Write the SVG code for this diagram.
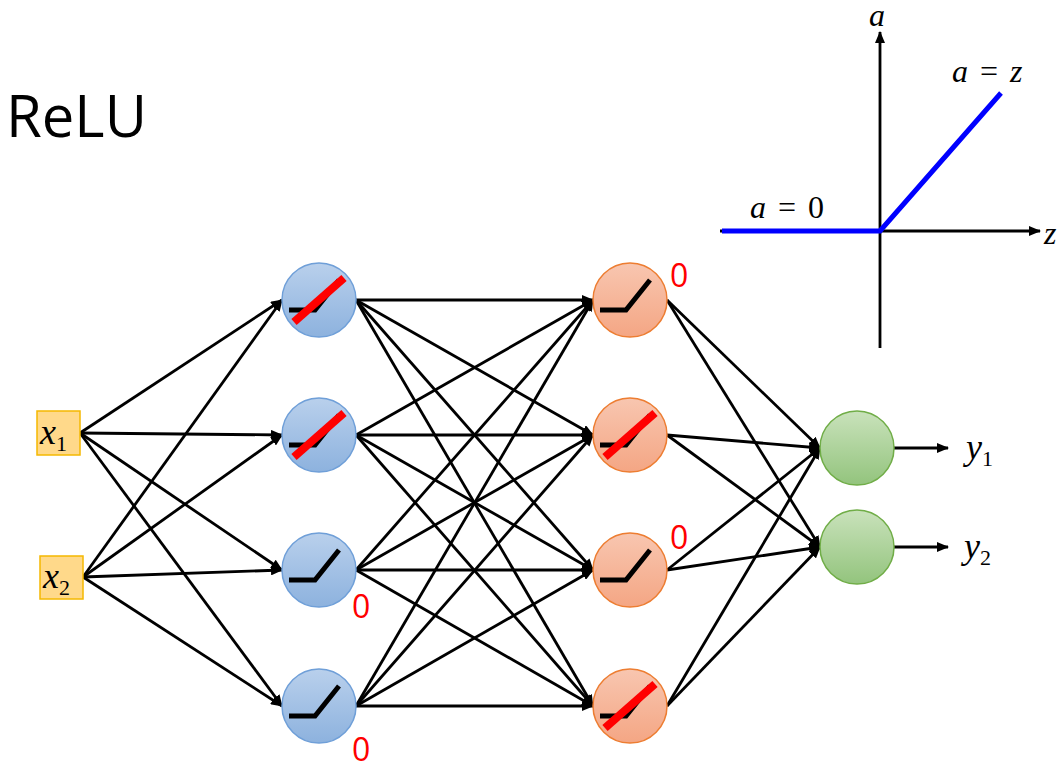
<svg xmlns="http://www.w3.org/2000/svg" width="1064" height="769" viewBox="0 0 1064 769">
<style>
.e line{stroke:#000;stroke-width:2.8;marker-end:url(#ah)}
.g{stroke:#000;stroke-width:5;fill:none}
.s{stroke:#f00;stroke-width:8}
.z{fill:#f00;font-family:"Open Sans",sans-serif;font-size:32px}
.m{font-family:"Liberation Serif",serif;font-style:italic}
.bl{fill:url(#gb);stroke:#6f9fd8;stroke-width:1.5}
.or{fill:url(#go);stroke:#ed7d31;stroke-width:1.5}
.gr{fill:url(#gg);stroke:#70ad47;stroke-width:1.5}
.in{fill:#ffd98a;stroke:#f5b800;stroke-width:1.5}
</style>
<defs>
<marker id="ah" markerWidth="12" markerHeight="10" refX="11" refY="5" orient="auto" markerUnits="userSpaceOnUse"><path d="M0,0L12,5L0,10z"/></marker>
<linearGradient id="gb" x1="0" y1="0" x2="0" y2="1"><stop offset="0" stop-color="#b9d0ec"/><stop offset="1" stop-color="#8db2de"/></linearGradient>
<linearGradient id="go" x1="0" y1="0" x2="0" y2="1"><stop offset="0" stop-color="#f8c6b0"/><stop offset="1" stop-color="#f4a684"/></linearGradient>
<linearGradient id="gg" x1="0" y1="0" x2="0" y2="1"><stop offset="0" stop-color="#c9e2bb"/><stop offset="1" stop-color="#93c47d"/></linearGradient>
<g id="relu"><path class="g" d="M-30,10H-4L20,-20"/></g>
</defs>
<rect width="1064" height="769" fill="#fff"/>
<text x="6" y="137" font-family="Open Sans,sans-serif" font-size="58">ReLU</text>
<g id="plot" class="e">
<line x1="880" y1="348" x2="880" y2="32"/>
<line x1="720" y1="231" x2="1040" y2="231"/>
<path d="M722,231H880L1001,93" stroke="#00f" stroke-width="5" fill="none"/>
<text class="m" x="869" y="26" font-size="32">a</text>
<text class="m" x="1044" y="244" font-size="32">z</text>
<text x="952" y="82" font-size="32" font-family="Liberation Serif,serif" word-spacing="4"><tspan font-style="italic">a</tspan> = <tspan font-style="italic">z</tspan></text>
<text x="750" y="218" font-size="32" font-family="Liberation Serif,serif" word-spacing="4"><tspan font-style="italic">a</tspan> = 0</text>
</g>
<g id="connectors" class="e">
<line x1="80" y1="433" x2="282" y2="300"/><line x1="80" y1="433" x2="282" y2="435"/><line x1="80" y1="433" x2="282" y2="570"/><line x1="80" y1="433" x2="282" y2="706"/>
<line x1="83" y1="577" x2="282" y2="300"/><line x1="83" y1="577" x2="282" y2="435"/><line x1="83" y1="577" x2="282" y2="570"/><line x1="83" y1="577" x2="282" y2="706"/>
<line x1="356" y1="300" x2="593" y2="300"/><line x1="356" y1="300" x2="593" y2="435"/><line x1="356" y1="300" x2="593" y2="570"/><line x1="356" y1="300" x2="593" y2="706"/>
<line x1="356" y1="435" x2="593" y2="300"/><line x1="356" y1="435" x2="593" y2="435"/><line x1="356" y1="435" x2="593" y2="570"/><line x1="356" y1="435" x2="593" y2="706"/>
<line x1="356" y1="570" x2="593" y2="300"/><line x1="356" y1="570" x2="593" y2="435"/><line x1="356" y1="570" x2="593" y2="570"/><line x1="356" y1="570" x2="593" y2="706"/>
<line x1="356" y1="706" x2="593" y2="300"/><line x1="356" y1="706" x2="593" y2="435"/><line x1="356" y1="706" x2="593" y2="570"/><line x1="356" y1="706" x2="593" y2="706"/>
<line x1="667" y1="300" x2="820" y2="448"/><line x1="667" y1="300" x2="820" y2="547"/><line x1="667" y1="435" x2="820" y2="448"/><line x1="667" y1="435" x2="820" y2="547"/>
<line x1="667" y1="570" x2="820" y2="448"/><line x1="667" y1="570" x2="820" y2="547"/><line x1="667" y1="706" x2="820" y2="448"/><line x1="667" y1="706" x2="820" y2="547"/>
<line x1="894" y1="448" x2="948" y2="448"/><line x1="894" y1="547" x2="948" y2="547"/>
</g>
<g id="x1"><rect class="in" x="37" y="411" width="43" height="44"/><text class="m" x="40" y="444" font-size="36">x<tspan font-size="22" font-style="normal" dy="7">1</tspan></text></g>
<g id="x2"><rect class="in" x="40" y="556" width="43" height="43"/><text class="m" x="43" y="588" font-size="36">x<tspan font-size="22" font-style="normal" dy="7">2</tspan></text></g>
<g id="h11"><circle class="bl" cx="319" cy="300" r="37"/><use href="#relu" x="319" y="300"/><path class="s" d="M294,322L344,278"/></g>
<g id="h12"><circle class="bl" cx="319" cy="435" r="37"/><use href="#relu" x="319" y="435"/><path class="s" d="M294,457L344,413"/></g>
<g id="h13"><circle class="bl" cx="319" cy="570" r="37"/><use href="#relu" x="319" y="570"/><text class="z" x="352" y="618">0</text></g>
<g id="h14"><circle class="bl" cx="319" cy="706" r="37"/><use href="#relu" x="319" y="706"/><text class="z" x="352" y="761">0</text></g>
<g id="h21"><circle class="or" cx="630" cy="300" r="37"/><use href="#relu" x="630" y="300"/><text class="z" x="670" y="287">0</text></g>
<g id="h22"><circle class="or" cx="630" cy="435" r="37"/><use href="#relu" x="630" y="435"/><path class="s" d="M605,457L655,413"/></g>
<g id="h23"><circle class="or" cx="630" cy="570" r="37"/><use href="#relu" x="630" y="570"/><text class="z" x="670" y="549">0</text></g>
<g id="h24"><circle class="or" cx="630" cy="706" r="37"/><use href="#relu" x="630" y="706"/><path class="s" d="M605,728L655,684"/></g>
<g id="o1"><circle class="gr" cx="857" cy="448" r="37"/></g>
<g id="o2"><circle class="gr" cx="857" cy="547" r="37"/></g>
<g id="y1"><text class="m" x="966" y="459" font-size="36">y<tspan font-size="22" font-style="normal" dy="7">1</tspan></text></g>
<g id="y2"><text class="m" x="964" y="558" font-size="36">y<tspan font-size="22" font-style="normal" dy="7">2</tspan></text></g>
</svg>
